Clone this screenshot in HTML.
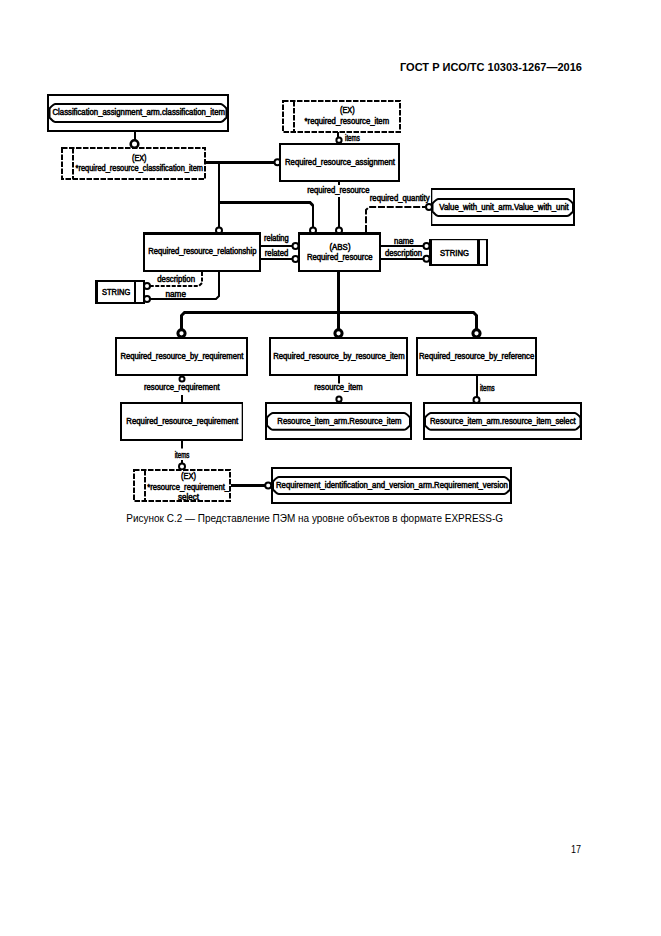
<!DOCTYPE html>
<html><head><meta charset="utf-8"><title>EXPRESS-G</title>
<style>
html,body{margin:0;padding:0;background:#fff;}
body{width:661px;height:936px;overflow:hidden;}
svg{display:block;}
text{font-family:"Liberation Sans",sans-serif;fill:#000;}
text.t{stroke:#000;stroke-width:0.5px;}
</style></head><body>
<svg width="661" height="936" viewBox="0 0 661 936">
<rect x="0" y="0" width="661" height="936" fill="#fff"/>
<polyline points="135,132 135,140" fill="none" stroke="#000" stroke-width="2"/>
<circle cx="134.5" cy="144" r="3.8" fill="#fff" stroke="#000" stroke-width="2.6"/>
<polyline points="206,162.5 276,162.5" fill="none" stroke="#000" stroke-width="3"/>
<circle cx="277.5" cy="162.2" r="3" fill="#fff" stroke="#000" stroke-width="2"/>
<polyline points="338,132 338,137" fill="none" stroke="#000" stroke-width="2"/>
<circle cx="339" cy="140.2" r="2.6" fill="#fff" stroke="#000" stroke-width="2"/>
<path d="M219,162.5 L219,228" fill="none" stroke="#000" stroke-width="2"/>
<circle cx="219" cy="230.5" r="3" fill="#fff" stroke="#000" stroke-width="2"/>
<path d="M219,202.5 L310,202.5 L313,205.5" fill="none" stroke="#000" stroke-width="3"/>
<path d="M313,205 L313,228" fill="none" stroke="#000" stroke-width="2"/>
<circle cx="313" cy="230.5" r="3" fill="#fff" stroke="#000" stroke-width="2"/>
<polyline points="339,181 339,185" fill="none" stroke="#000" stroke-width="2"/>
<polyline points="339,197 339,227" fill="none" stroke="#000" stroke-width="2"/>
<circle cx="339" cy="230.5" r="3" fill="#fff" stroke="#000" stroke-width="2"/>
<path d="M366,232 L366,210 L369,207 L426,207" fill="none" stroke="#000" stroke-width="2" stroke-dasharray="7 1.8"/>
<circle cx="429" cy="207" r="3" fill="#fff" stroke="#000" stroke-width="2"/>
<polyline points="261,246 292,246" fill="none" stroke="#000" stroke-width="2"/>
<circle cx="295.5" cy="246" r="3" fill="#fff" stroke="#000" stroke-width="2"/>
<polyline points="261,259 292,259" fill="none" stroke="#000" stroke-width="2"/>
<circle cx="295.5" cy="259" r="3" fill="#fff" stroke="#000" stroke-width="2"/>
<polyline points="381,246 424,246" fill="none" stroke="#000" stroke-width="2"/>
<circle cx="426.5" cy="246" r="3" fill="#fff" stroke="#000" stroke-width="2"/>
<polyline points="381,259 424,259" fill="none" stroke="#000" stroke-width="2"/>
<circle cx="426.5" cy="258.8" r="3" fill="#fff" stroke="#000" stroke-width="2"/>
<path d="M202,272 L202,283 L199,286 L150,286" fill="none" stroke="#000" stroke-width="2" stroke-dasharray="4 1.5"/>
<circle cx="147" cy="286" r="3" fill="#fff" stroke="#000" stroke-width="2"/>
<path d="M219,272 L219,296 L216,299 L150,299" fill="none" stroke="#000" stroke-width="2"/>
<circle cx="147" cy="299" r="3" fill="#fff" stroke="#000" stroke-width="2"/>
<polyline points="338.5,272 338.5,329" fill="none" stroke="#000" stroke-width="3"/>
<path d="M181.5,329 L181.5,315.5 L184.5,312.5 L473.5,312.5 L476.5,315.5 L476.5,329" fill="none" stroke="#000" stroke-width="3"/>
<circle cx="181.5" cy="333.3" r="3.6" fill="#fff" stroke="#000" stroke-width="3"/>
<circle cx="338.5" cy="333.3" r="3.6" fill="#fff" stroke="#000" stroke-width="3"/>
<circle cx="476.5" cy="333.3" r="3.6" fill="#fff" stroke="#000" stroke-width="3"/>
<polyline points="182,375 182,377" fill="none" stroke="#000" stroke-width="2"/>
<circle cx="182" cy="379" r="2.5" fill="#fff" stroke="#000" stroke-width="2"/>
<polyline points="182,395 182,403" fill="none" stroke="#000" stroke-width="2"/>
<polyline points="339,376 339,383.5" fill="none" stroke="#000" stroke-width="2"/>
<circle cx="339" cy="399.2" r="2.6" fill="#fff" stroke="#000" stroke-width="2"/>
<polyline points="477,375 477,397" fill="none" stroke="#000" stroke-width="2"/>
<circle cx="476.5" cy="400" r="3" fill="#fff" stroke="#000" stroke-width="2"/>
<polyline points="182,440 182,448.6" fill="none" stroke="#000" stroke-width="2"/>
<polyline points="182,460 182,463" fill="none" stroke="#000" stroke-width="2"/>
<circle cx="182" cy="466.5" r="3" fill="#fff" stroke="#000" stroke-width="2"/>
<polyline points="231,485.5 265,485.5" fill="none" stroke="#000" stroke-width="3"/>
<circle cx="268.2" cy="485.5" r="3" fill="#fff" stroke="#000" stroke-width="2"/>
<rect x="48" y="95" width="180" height="36" fill="#fff" stroke="#000" stroke-width="2"/>
<path d="M55.5,104 L220.5,104 Q222.5,104 226.5,108.5 L226.5,117.5 Q222.5,122 220.5,122 L55.5,122 Q53.5,122 49.5,117.5 L49.5,108.5 Q53.5,104 55.5,104 Z" fill="none" stroke="#000" stroke-width="2" stroke-linejoin="round"/>
<rect x="62" y="148" width="143" height="31" fill="#fff" stroke="#000" stroke-width="2" stroke-dasharray="5.5 1.5"/>
<polyline points="73,148 73,179" fill="none" stroke="#000" stroke-width="2" stroke-dasharray="5.5 1.5"/>
<rect x="283" y="101" width="117" height="31" fill="#fff" stroke="#000" stroke-width="2" stroke-dasharray="5.5 1.5"/>
<polyline points="294,101 294,132" fill="none" stroke="#000" stroke-width="2" stroke-dasharray="5.5 1.5"/>
<rect x="280" y="144" width="119" height="37" fill="#fff" stroke="none"/>
<rect x="279" y="143" width="121" height="2" fill="#000"/>
<rect x="279" y="180" width="121" height="2" fill="#000"/>
<rect x="279" y="143" width="2" height="39" fill="#000"/>
<rect x="398" y="143" width="2" height="39" fill="#000"/>
<rect x="432" y="189" width="142" height="36" fill="#fff" stroke="none"/>
<rect x="431" y="188" width="144" height="2" fill="#000"/>
<rect x="431" y="224" width="144" height="2" fill="#000"/>
<rect x="431" y="188" width="1.3" height="38" fill="#000"/>
<rect x="573" y="188" width="2" height="38" fill="#000"/>
<path d="M438.5,199 L567.0,199 Q569.0,199 573,203.5 L573,211.5 Q569.0,216 567.0,216 L438.5,216 Q436.5,216 432.5,211.5 L432.5,203.5 Q436.5,199 438.5,199 Z" fill="none" stroke="#000" stroke-width="2" stroke-linejoin="round"/>
<rect x="144" y="233" width="116" height="38" fill="#fff" stroke="none"/>
<rect x="143" y="232" width="118" height="3" fill="#000"/>
<rect x="143" y="270" width="118" height="2" fill="#000"/>
<rect x="143" y="232" width="2" height="40" fill="#000"/>
<rect x="259" y="232" width="2" height="40" fill="#000"/>
<rect x="299" y="233" width="81" height="38" fill="#fff" stroke="none"/>
<rect x="298" y="232" width="83" height="3" fill="#000"/>
<rect x="298" y="270" width="83" height="2" fill="#000"/>
<rect x="298" y="232" width="2" height="40" fill="#000"/>
<rect x="379" y="232" width="2" height="40" fill="#000"/>
<rect x="430" y="240" width="57" height="25" fill="#fff" stroke="none"/>
<rect x="429" y="239" width="59" height="1.2" fill="#000"/>
<rect x="429" y="264" width="59" height="2" fill="#000"/>
<rect x="429" y="239" width="3" height="27" fill="#000"/>
<rect x="486" y="239" width="2" height="27" fill="#000"/>
<rect x="477" y="239" width="3" height="27" fill="#000"/>
<rect x="96" y="281" width="48" height="22" fill="#fff" stroke="none"/>
<rect x="95" y="280" width="50" height="2" fill="#000"/>
<rect x="95" y="302" width="50" height="2" fill="#000"/>
<rect x="95" y="280" width="3" height="24" fill="#000"/>
<rect x="143" y="280" width="2" height="24" fill="#000"/>
<polyline points="135,281 135,303" fill="none" stroke="#000" stroke-width="2"/>
<rect x="116" y="338" width="131" height="37" fill="#fff" stroke="none"/>
<rect x="115" y="337" width="133" height="2" fill="#000"/>
<rect x="115" y="374" width="133" height="2" fill="#000"/>
<rect x="115" y="337" width="2" height="39" fill="#000"/>
<rect x="246" y="337" width="2" height="39" fill="#000"/>
<rect x="270" y="338" width="137" height="37" fill="#fff" stroke="none"/>
<rect x="269" y="337" width="139" height="2" fill="#000"/>
<rect x="269" y="374" width="139" height="2" fill="#000"/>
<rect x="269" y="337" width="2" height="39" fill="#000"/>
<rect x="406" y="337" width="2" height="39" fill="#000"/>
<rect x="417" y="338" width="119" height="37" fill="#fff" stroke="none"/>
<rect x="416" y="337" width="121" height="2" fill="#000"/>
<rect x="416" y="374" width="121" height="2" fill="#000"/>
<rect x="416" y="337" width="2" height="39" fill="#000"/>
<rect x="535" y="337" width="2" height="39" fill="#000"/>
<rect x="121" y="403" width="121" height="37" fill="#fff" stroke="none"/>
<rect x="120" y="402" width="123" height="2" fill="#000"/>
<rect x="120" y="439" width="123" height="2" fill="#000"/>
<rect x="120" y="402" width="2" height="39" fill="#000"/>
<rect x="241.7" y="402" width="1.3" height="39" fill="#000"/>
<rect x="266" y="403" width="145" height="36" fill="#fff" stroke="none"/>
<rect x="265" y="402" width="147" height="2" fill="#000"/>
<rect x="265" y="438" width="147" height="2" fill="#000"/>
<rect x="265" y="402" width="2" height="38" fill="#000"/>
<rect x="410" y="402" width="2" height="38" fill="#000"/>
<path d="M273.0,413 L404.0,413 Q406.0,413 410,417.5 L410,425.3 Q406.0,429.8 404.0,429.8 L273.0,429.8 Q271.0,429.8 267,425.3 L267,417.5 Q271.0,413 273.0,413 Z" fill="none" stroke="#000" stroke-width="2" stroke-linejoin="round"/>
<rect x="424" y="403" width="157" height="36" fill="#fff" stroke="none"/>
<rect x="423" y="402" width="159" height="2" fill="#000"/>
<rect x="423" y="438" width="159" height="2" fill="#000"/>
<rect x="423" y="402" width="2" height="38" fill="#000"/>
<rect x="580" y="402" width="2" height="38" fill="#000"/>
<path d="M431.0,413 L574.5,413 Q576.5,413 580.5,417.5 L580.5,425.3 Q576.5,429.8 574.5,429.8 L431.0,429.8 Q429.0,429.8 425,425.3 L425,417.5 Q429.0,413 431.0,413 Z" fill="none" stroke="#000" stroke-width="2" stroke-linejoin="round"/>
<rect x="134" y="470" width="96" height="31" fill="#fff" stroke="#000" stroke-width="2" stroke-dasharray="5.5 1.5"/>
<polyline points="145,470 145,501" fill="none" stroke="#000" stroke-width="2" stroke-dasharray="5.5 1.5"/>
<rect x="272" y="468" width="239" height="35" fill="#fff" stroke="none"/>
<rect x="271" y="467" width="241" height="2" fill="#000"/>
<rect x="271" y="502" width="241" height="2" fill="#000"/>
<rect x="271" y="467" width="2" height="37" fill="#000"/>
<rect x="510" y="467" width="2" height="37" fill="#000"/>
<path d="M279.0,477 L504.0,477 Q506.0,477 510,481.5 L510,489.5 Q506.0,494 504.0,494 L279.0,494 Q277.0,494 273,489.5 L273,481.5 Q277.0,477 279.0,477 Z" fill="none" stroke="#000" stroke-width="2" stroke-linejoin="round"/>
<text class="h" x="400" y="71" font-size="11" font-weight="bold" textLength="182" lengthAdjust="spacingAndGlyphs">ГОСТ Р ИСО/ТС 10303-1267—2016</text>
<text class="t" x="52.5" y="114.8" font-size="8.5" font-weight="normal" textLength="172.4" lengthAdjust="spacingAndGlyphs">Classification_assignment_arm.classification_item</text>
<text class="t" x="132" y="161" font-size="8.5" font-weight="normal" textLength="14.5" lengthAdjust="spacingAndGlyphs">(EX)</text>
<text class="t" x="75.6" y="170.6" font-size="8.5" font-weight="normal" textLength="127.4" lengthAdjust="spacingAndGlyphs">*required_resource_classification_item</text>
<text class="t" x="340" y="113" font-size="8.5" font-weight="normal" textLength="14.699999999999989" lengthAdjust="spacingAndGlyphs">(EX)</text>
<text class="t" x="304.6" y="123.5" font-size="8.5" font-weight="normal" textLength="84.5" lengthAdjust="spacingAndGlyphs">*required_resource_item</text>
<text class="t" x="345" y="141" font-size="8.5" font-weight="normal" textLength="14.800000000000011" lengthAdjust="spacingAndGlyphs">items</text>
<text class="t" x="285" y="165" font-size="8.5" font-weight="normal" textLength="110" lengthAdjust="spacingAndGlyphs">Required_resource_assignment</text>
<text class="t" x="307.2" y="192.5" font-size="8.5" font-weight="normal" textLength="62.19999999999999" lengthAdjust="spacingAndGlyphs">required_resource</text>
<text class="t" x="369.8" y="201" font-size="8.5" font-weight="normal" textLength="59.80000000000001" lengthAdjust="spacingAndGlyphs">required_quantity</text>
<text class="t" x="439.3" y="209.5" font-size="8.5" font-weight="normal" textLength="129.40000000000003" lengthAdjust="spacingAndGlyphs">Value_with_unit_arm.Value_with_unit</text>
<text class="t" x="148.2" y="254.3" font-size="8.5" font-weight="normal" textLength="108.19999999999999" lengthAdjust="spacingAndGlyphs">Required_resource_relationship</text>
<text class="t" x="264" y="240.8" font-size="8.5" font-weight="normal" textLength="24.69999999999999" lengthAdjust="spacingAndGlyphs">relating</text>
<text class="t" x="264.8" y="255.6" font-size="8.5" font-weight="normal" textLength="23.5" lengthAdjust="spacingAndGlyphs">related</text>
<text class="t" x="329.5" y="250" font-size="8.5" font-weight="normal" textLength="21.0" lengthAdjust="spacingAndGlyphs">(ABS)</text>
<text class="t" x="306.9" y="259.5" font-size="8.5" font-weight="normal" textLength="65.70000000000005" lengthAdjust="spacingAndGlyphs">Required_resource</text>
<text class="t" x="394" y="243.5" font-size="8.5" font-weight="normal" textLength="19.69999999999999" lengthAdjust="spacingAndGlyphs">name</text>
<text class="t" x="385" y="256.2" font-size="8.5" font-weight="normal" textLength="37" lengthAdjust="spacingAndGlyphs">description</text>
<text class="t" x="440" y="256" font-size="8.5" font-weight="normal" textLength="28.899999999999977" lengthAdjust="spacingAndGlyphs">STRING</text>
<text class="t" x="102" y="295" font-size="8.5" font-weight="normal" textLength="28.400000000000006" lengthAdjust="spacingAndGlyphs">STRING</text>
<text class="t" x="157.2" y="282.4" font-size="8.5" font-weight="normal" textLength="37.80000000000001" lengthAdjust="spacingAndGlyphs">description</text>
<text class="t" x="165.5" y="296.5" font-size="8.5" font-weight="normal" textLength="20.5" lengthAdjust="spacingAndGlyphs">name</text>
<text class="t" x="120.4" y="358.5" font-size="8.5" font-weight="normal" textLength="123.0" lengthAdjust="spacingAndGlyphs">Required_resource_by_requirement</text>
<text class="t" x="273.2" y="359" font-size="8.5" font-weight="normal" textLength="131.40000000000003" lengthAdjust="spacingAndGlyphs">Required_resource_by_resource_item</text>
<text class="t" x="419" y="358.5" font-size="8.5" font-weight="normal" textLength="115.29999999999995" lengthAdjust="spacingAndGlyphs">Required_resource_by_reference</text>
<text class="t" x="144" y="390" font-size="8.5" font-weight="normal" textLength="75.6" lengthAdjust="spacingAndGlyphs">resource_requirement</text>
<text class="t" x="314.3" y="390" font-size="8.5" font-weight="normal" textLength="48.39999999999998" lengthAdjust="spacingAndGlyphs">resource_item</text>
<text class="t" x="479.9" y="391" font-size="8.5" font-weight="normal" textLength="14.700000000000045" lengthAdjust="spacingAndGlyphs">items</text>
<text class="t" x="126.3" y="423.5" font-size="8.5" font-weight="normal" textLength="111.89999999999999" lengthAdjust="spacingAndGlyphs">Required_resource_requirement</text>
<text class="t" x="277.3" y="423.7" font-size="8.5" font-weight="normal" textLength="124.19999999999999" lengthAdjust="spacingAndGlyphs">Resource_item_arm.Resource_item</text>
<text class="t" x="430" y="424" font-size="8.5" font-weight="normal" textLength="145.70000000000005" lengthAdjust="spacingAndGlyphs">Resource_item_arm.resource_item_select</text>
<text class="t" x="174.7" y="457.6" font-size="8.5" font-weight="normal" textLength="14.700000000000017" lengthAdjust="spacingAndGlyphs">items</text>
<text class="t" x="181" y="479" font-size="8.5" font-weight="normal" textLength="15" lengthAdjust="spacingAndGlyphs">(EX)</text>
<text class="t" x="147.3" y="489.5" font-size="8.5" font-weight="normal" textLength="81.69999999999999" lengthAdjust="spacingAndGlyphs">*resource_requirement_</text>
<text class="t" x="178" y="499.5" font-size="8.5" font-weight="normal" textLength="21" lengthAdjust="spacingAndGlyphs">select</text>
<text class="t" x="276" y="488" font-size="8.5" font-weight="normal" textLength="231.8" lengthAdjust="spacingAndGlyphs">Requirement_identification_and_version_arm.Requirement_version</text>
<text class="c" x="126.3" y="521.9" font-size="10.3" font-weight="normal" textLength="376.7" lengthAdjust="spacingAndGlyphs">Рисунок С.2 — Представление ПЭМ на уровне объектов в формате EXPRESS-G</text>
<text class="c" x="571" y="853" font-size="10" font-weight="normal" textLength="10" lengthAdjust="spacingAndGlyphs">17</text>
</svg>
</body></html>
